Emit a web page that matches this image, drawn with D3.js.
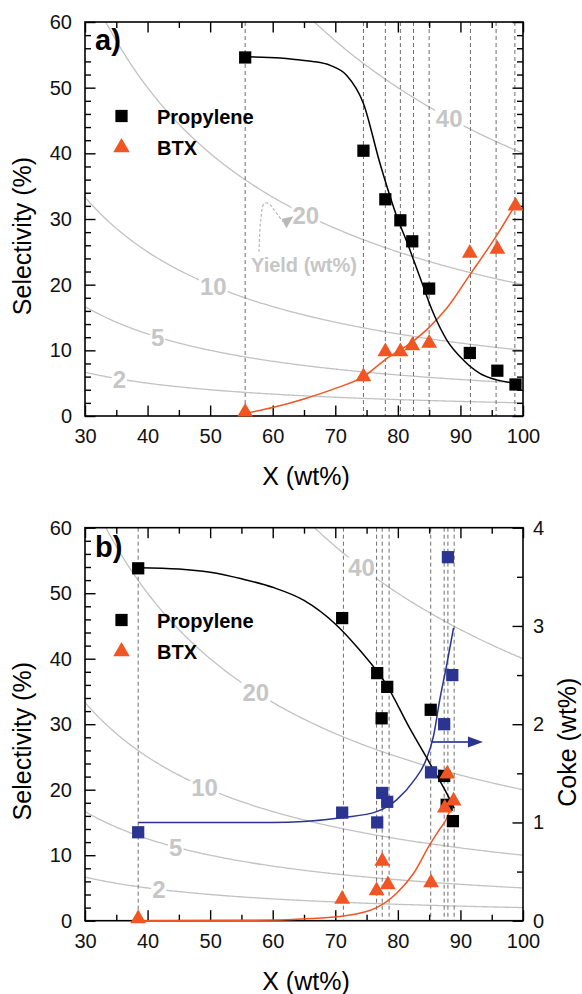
<!DOCTYPE html>
<html><head><meta charset="utf-8">
<script src="https://cdn.jsdelivr.net/npm/d3@7"></script>
<style>
body{margin:0;background:#fff}
svg{display:block}
</style></head><body>
<svg id="c" width="582" height="994"></svg>
<script>
// ---------- data ----------
const xTicks = [30, 40, 50, 60, 70, 80, 90, 100];
const xMinor = [35, 45, 55, 65, 75, 85, 95];
const yTicks = [0, 10, 20, 30, 40, 50, 60];
const yMinor = [2, 4, 6, 8, 12, 14, 16, 18, 22, 24, 26, 28, 32, 34, 36, 38, 42, 44, 46, 48, 52, 54, 56, 58];
const cokeTicks = [0, 1, 2, 3, 4];
const cokeMinor = [0.5, 1.5, 2.5, 3.5];
const seriesNames = ["Propylene", "BTX"];
const yieldLevels = [2, 5, 10, 20, 40];

// panel a
const aDashX = [55.6, 74.5, 78.0, 80.4, 82.5, 85.0, 91.6, 95.7, 98.7];
const aPropX = [55.6, 74.5, 78.0, 80.4, 82.3, 85.0, 91.5, 95.9, 98.8];
const aPropY = [54.6, 40.4, 33.0, 29.8, 26.6, 19.4, 9.6, 6.9, 4.8];
const aBtxX  = [55.6, 74.5, 78.0, 80.4, 82.3, 85.0, 91.5, 95.9, 98.8];
const aBtxY  = [0.6, 6.0, 9.8, 9.8, 10.7, 11.1, 24.8, 25.4, 32.0];
const aPropFitX = [55.6, 61.2, 64.4, 66.4, 69.2, 71.8, 74.5, 77.1, 79.9, 81.4, 83.5, 85.7, 87.8, 90.5, 93.1, 95.8, 98.8];
const aPropFitY = [54.7, 54.5, 54.2, 54.0, 53.4, 51.9, 47.6, 38.6, 30.2, 26.6, 21.2, 15.6, 11.6, 8.5, 6.5, 5.5, 5.0];
const aBtxFitX = [55.6, 60, 65, 70, 74.5, 78, 82.3, 85, 87.8, 91.5, 95.8, 98.8];
const aBtxFitY = [0.4, 1.3, 2.6, 4.2, 6.0, 8.6, 11.3, 13.5, 16.4, 21.5, 27.5, 32.2];
const aYieldLabelX = [35.5, 41.6, 50.5, 65.3, 88.2];   // X position of labels 2,5,10,20,40

// panel b
const bDashX = [38.5, 71.3, 76.6, 77.5, 78.6, 85.25, 87.4, 88.0, 89.0];
const bPropX = [38.5, 71.1, 76.7, 77.4, 78.3, 85.25, 87.4, 87.8, 88.8];
const bPropY = [53.8, 46.2, 37.8, 30.9, 35.7, 32.2, 22.1, 17.7, 15.2];
const bBtxX  = [38.5, 71.1, 76.6, 77.5, 78.4, 85.3, 87.5, 87.9, 88.9];
const bBtxY  = [0.3, 3.3, 4.6, 9.1, 5.5, 5.8, 17.2, 22.4, 18.3];
const bCokeX = [38.5, 71.1, 76.7, 77.5, 78.3, 85.3, 87.4, 88.0, 88.7];
const bCokeY = [0.90, 1.10, 1.00, 1.30, 1.21, 1.51, 2.00, 3.70, 2.50];
const bPropFitX = [38.5, 45, 50, 55, 60, 65, 70, 74, 78, 82, 85.25, 87.5, 89];
const bPropFitY = [53.9, 53.7, 53.2, 52.2, 50.9, 48.9, 45.3, 41.2, 36.3, 29.2, 23.8, 20.0, 17.2];
const bBtxFitX = [38.5, 55, 61.2, 66.5, 71.3, 76.6, 79.8, 82.5, 85.1, 86.7, 87.8, 88.9];
const bBtxFitY = [0.0, 0.05, 0.1, 0.35, 0.7, 2.0, 4.2, 7.2, 11.6, 14.0, 15.6, 18.5];
const bCokeFitX = [38.5, 60, 65, 71.3, 76.6, 79.8, 82.5, 84.4, 85.7, 86.7, 87.8, 88.9];
const bCokeFitY = [1.0, 1.0, 1.01, 1.05, 1.11, 1.23, 1.42, 1.62, 1.88, 2.25, 2.6, 2.98];
const bYieldLabelX = [41.8, 44.5, 49.1, 57.3, 74.2];
const bCokeArrowX = [85.3, 93.6];
const bCokeArrowY = 1.82;

// ---------- drawing ----------
const svg = d3.select("#c");
const FONT = "'Liberation Sans', Arial, Helvetica, sans-serif";
const NARROW = "'Liberation Sans Narrow', 'Liberation Sans', Arial, sans-serif";
const ORANGE = "#f05523", BLUE = "#2b3591", GRID = "#c2c2c2", LABG = "#c6c6c6";

const x = d3.scaleLinear().domain([30, 100]).range([85, 523]);
const line = (sx, sy) => d3.line().x(d => sx(d[0])).y(d => sy(d[1])).curve(d3.curveMonotoneX);
const zip = (a, b) => a.map((v, i) => [v, b[i]]);
const fmt = d3.format("d");

function styleAxis(g, labels) {
  g.select(".domain").remove();
  g.selectAll(".tick line").attr("stroke", "#000").attr("stroke-width", 1.4);
  g.attr("font-size", 20).attr("font-family", FONT);
  g.selectAll("text").attr("fill", "#111");
  if (!labels) g.selectAll("text").remove();
}

function panel(id, top, bottom, d) {
  const y = d3.scaleLinear().domain([0, 60]).range([bottom, top]);
  const g = svg.append("g");
  const clipId = "clip" + id;
  g.append("clipPath").attr("id", clipId).append("rect")
    .attr("x", x(30)).attr("y", top).attr("width", x(100) - x(30)).attr("height", bottom - top);

  // iso-yield contours: Selectivity = 100*Yield/X
  const cg = g.append("g").attr("clip-path", `url(#${clipId})`);
  yieldLevels.forEach(L => {
    const pts = d3.range(30, 100.001, 0.25).map(X => [X, 100 * L / X]);
    cg.append("path").attr("d", d3.line().x(p => x(p[0])).y(p => y(p[1]))(pts))
      .attr("fill", "none").attr("stroke", GRID).attr("stroke-width", 1.3);
  });
  yieldLevels.forEach((L, i) => {
    const X = d.labelX[i];
    const t = g.append("text").attr("x", x(X)).attr("y", y(100 * L / X)).attr("dy", "0.36em")
      .attr("text-anchor", "middle").attr("font-family", NARROW).attr("font-weight", "bold")
      .attr("font-size", 24).attr("fill", LABG).text(L);
    const bb = t.node().getBBox();
    g.insert("rect", () => t.node()).attr("x", bb.x - 1).attr("y", bb.y + 3)
      .attr("width", bb.width + 2).attr("height", bb.height - 6).attr("fill", "#fff");
  });

  // dashed verticals
  g.selectAll(null).data(d.dash).join("line")
    .attr("x1", v => x(v)).attr("x2", v => x(v)).attr("y1", top).attr("y2", bottom)
    .attr("stroke", "#6e6e6e").attr("stroke-width", 1).attr("stroke-dasharray", "4,3");

  if (d.extra) d.extra(g, y);

  // axes
  const gb = g.append("g").attr("transform", `translate(0,${bottom})`);
  gb.append("g").call(d3.axisBottom(x).tickValues(xTicks).tickSize(-10.5).tickPadding(13).tickFormat(fmt)).call(s => styleAxis(s, true));
  gb.append("g").call(d3.axisBottom(x).tickValues(xMinor).tickSize(-6)).call(s => styleAxis(s, false));
  const gt = g.append("g").attr("transform", `translate(0,${top})`);
  gt.append("g").call(d3.axisTop(x).tickValues(xTicks).tickSize(-10.5)).call(s => styleAxis(s, false));
  gt.append("g").call(d3.axisTop(x).tickValues(xMinor).tickSize(-6)).call(s => styleAxis(s, false));
  const gl = g.append("g").attr("transform", `translate(${x(30)},0)`);
  gl.append("g").call(d3.axisLeft(y).tickValues(yTicks).tickSize(-10.5).tickPadding(13).tickFormat(fmt)).call(s => styleAxis(s, true));
  gl.append("g").call(d3.axisLeft(y).tickValues(yMinor).tickSize(-6)).call(s => styleAxis(s, false));
  const gr = g.append("g").attr("transform", `translate(${x(100)},0)`);
  if (d.coke) {
    const c = d.coke;
    gr.append("g").call(d3.axisRight(c).tickValues(cokeTicks).tickSize(-10.5).tickPadding(10).tickFormat(fmt)).call(s => styleAxis(s, true));
    gr.append("g").call(d3.axisRight(c).tickValues(cokeMinor).tickSize(-6)).call(s => styleAxis(s, false));
  } else {
    gr.append("g").call(d3.axisRight(y).tickValues(yTicks).tickSize(-10.5)).call(s => styleAxis(s, false));
    gr.append("g").call(d3.axisRight(y).tickValues(yMinor).tickSize(-6)).call(s => styleAxis(s, false));
  }
  g.append("rect").attr("x", x(30)).attr("y", top).attr("width", x(100) - x(30)).attr("height", bottom - top)
    .attr("fill", "none").attr("stroke", "#000").attr("stroke-width", 1.6);

  // fits
  if (d.cokeFit) g.append("path").attr("d", line(x, d.coke)(d.cokeFit)).attr("fill", "none").attr("stroke", BLUE).attr("stroke-width", 1.5);
  g.append("path").attr("d", line(x, y)(d.btxFit)).attr("fill", "none").attr("stroke", ORANGE).attr("stroke-width", 1.5);
  g.append("path").attr("d", line(x, y)(d.propFit)).attr("fill", "none").attr("stroke", "#000").attr("stroke-width", 1.5);

  const sq = d3.symbol(d3.symbolSquare, 150);
  const tri = d3.symbol(d3.symbolTriangle, 108);
  if (d.cokePts) g.selectAll(null).data(d.cokePts).join("path").attr("d", sq)
    .attr("transform", p => `translate(${x(p[0])},${d.coke(p[1])})`).attr("fill", BLUE);
  g.selectAll(null).data(d.prop).join("path").attr("d", sq)
    .attr("transform", p => `translate(${x(p[0])},${y(p[1])})`).attr("fill", "#000");
  g.selectAll(null).data(d.btx).join("path").attr("d", tri)
    .attr("transform", p => `translate(${x(p[0])},${y(p[1])})`).attr("fill", ORANGE);

  // legend
  const lg = g.append("g");
  const ly = top + d.legendOff;
  lg.append("path").attr("d", sq).attr("transform", `translate(121.5,${ly})`).attr("fill", "#000");
  lg.append("path").attr("d", d3.symbol(d3.symbolTriangle, 118)).attr("transform", `translate(121.5,${ly + 31.5})`).attr("fill", ORANGE);
  lg.append("text").attr("x", 157).attr("y", ly + 8).attr("font-family", FONT).attr("font-weight", "bold")
    .attr("font-size", 20).text(seriesNames[0]);
  lg.append("text").attr("x", 157).attr("y", ly + 39).attr("font-family", FONT).attr("font-weight", "bold")
    .attr("font-size", 20).text(seriesNames[1]);

  // panel letter
  g.append("text").attr("x", 95).attr("y", top + (id === "a" ? 28 : 29)).attr("font-family", FONT)
    .attr("font-weight", "bold").attr("font-size", 29).text(id + ")");

  // axis titles
  g.append("text").attr("transform", `translate(31,${(top + bottom) / 2 + 17}) rotate(-90)`)
    .attr("text-anchor", "middle").attr("font-family", FONT).attr("font-size", 25).text("Selectivity (%)");
  g.append("text").attr("x", (x(30) + x(100)) / 2 + 2).attr("y", bottom + 69)
    .attr("text-anchor", "middle").attr("font-family", FONT).attr("font-size", 25).text("X (wt%)");
  if (d.coke) g.append("text").attr("transform", `translate(576,${(top + bottom) / 2 + 18}) rotate(-90)`)
    .attr("text-anchor", "middle").attr("font-family", FONT).attr("font-size", 25).text("Coke (wt%)");
  return y;
}

// Panel a
panel("a", 22, 416, {
  dash: aDashX, labelX: aYieldLabelX, legendOff: 94,
  prop: zip(aPropX, aPropY), btx: zip(aBtxX, aBtxY),
  propFit: zip(aPropFitX, aPropFitY), btxFit: zip(aBtxFitX, aBtxFitY),
  extra: (g, y) => {
    // "Yield (wt%)" annotation
    g.append("text").attr("x", x(65.0)).attr("y", y(21.9)).attr("text-anchor", "middle")
      .attr("font-family", FONT).attr("font-weight", "bold").attr("font-size", 20).attr("fill", LABG).text("Yield (wt%)");
    const arrowPts = [[57.8, 25.0], [58.1, 30.0], [58.6, 32.3], [59.3, 32.4], [60.2, 31.4], [61.6, 29.6]];
    g.append("path").attr("d", d3.line().x(p => x(p[0])).y(p => y(p[1])).curve(d3.curveCatmullRom)(arrowPts))
      .attr("fill", "none").attr("stroke", "#b8b8b8").attr("stroke-width", 1.2).attr("stroke-dasharray", "3,2");
    const head = [[61.4, 30.0], [63.3, 30.4], [62.2, 28.6]];
    g.append("path").attr("d", d3.line().x(p => x(p[0])).y(p => y(p[1]))(head) + "Z").attr("fill", "#b8b8b8");
  }
});

// Panel b
const coke = d3.scaleLinear().domain([0, 4]).range([920.7, 527.7]);
panel("b", 527.7, 920.7, {
  dash: bDashX, labelX: bYieldLabelX, legendOff: 92.3, coke: coke,
  prop: zip(bPropX, bPropY), btx: zip(bBtxX, bBtxY), cokePts: zip(bCokeX, bCokeY),
  propFit: zip(bPropFitX, bPropFitY), btxFit: zip(bBtxFitX, bBtxFitY), cokeFit: zip(bCokeFitX, bCokeFitY),
  extra: (g, y) => {
    const ay = coke(bCokeArrowY);
    g.append("line").attr("x1", x(bCokeArrowX[0])).attr("x2", x(bCokeArrowX[1]) - 12).attr("y1", ay).attr("y2", ay)
      .attr("stroke", "#4a55a8").attr("stroke-width", 2);
    g.append("path").attr("d", `M${x(bCokeArrowX[1])},${ay} l-15,-5.5 l0,11 Z`).attr("fill", BLUE);
  }
});
</script>
</body></html>
